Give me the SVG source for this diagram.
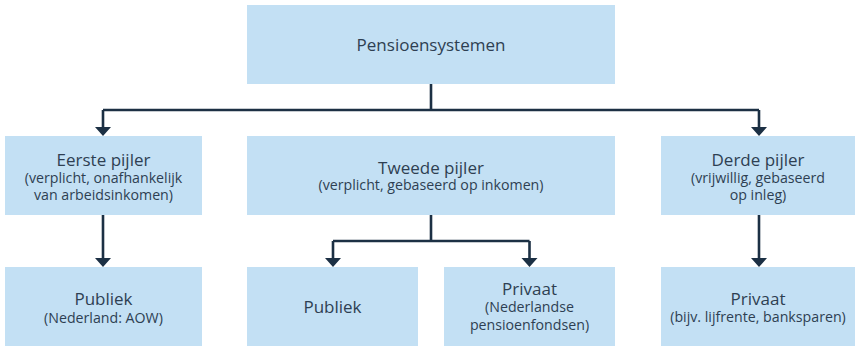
<svg xmlns="http://www.w3.org/2000/svg" width="855" height="346" viewBox="0 0 855 346">
<defs>
<style>
.box{fill:#c3e0f4}
.t{font-family:"Open Sans","Noto Sans",sans-serif;fill:#2e3f52;text-anchor:middle}
.h{font-size:17px}
.s{font-size:14.2px}
.c{fill:none;stroke:#1c3044;stroke-width:2.6}
.a{fill:#1c3044}
</style>
</defs>
<rect width="855" height="346" fill="#ffffff"/>
<g id="connectors">
<path class="c" d="M431,84 V110 M103,110 H759 M103,110 V128 M759,110 V128"/>
<path class="c" d="M103,215 V258 M759,215 V258"/>
<path class="c" d="M431,215 V241 M333,241 H529.5 M333,241 V258 M529.5,241 V258"/>
<path class="a" d="M95,127 H111 L103,136 Z M751,127 H767 L759,136 Z"/>
<path class="a" d="M95,258 H111 L103,267 Z M751,258 H767 L759,267 Z M325,258 H341 L333,267 Z M521.5,258 H537.5 L529.5,267 Z"/>
</g>
<g id="pensioensystemen">
<rect class="box" x="247" y="5" width="368" height="79"/>
<text class="t h" x="431" y="51">Pensioensystemen</text>
</g>
<g id="eerste">
<rect class="box" x="5" y="136" width="197" height="79"/>
<text class="t h" x="103.5" y="166">Eerste pijler</text>
<text class="t s" x="103.5" y="182.5">(verplicht, onafhankelijk</text>
<text class="t s" x="103.5" y="200">van arbeidsinkomen)</text>
</g>
<g id="tweede">
<rect class="box" x="247" y="136" width="368" height="79"/>
<text class="t h" x="431" y="173.5">Tweede pijler</text>
<text class="t s" x="431" y="189.5">(verplicht, gebaseerd op inkomen)</text>
</g>
<g id="derde">
<rect class="box" x="661" y="136" width="194" height="79"/>
<text class="t h" x="758" y="166">Derde pijler</text>
<text class="t s" x="758" y="182.5">(vrijwillig, gebaseerd</text>
<text class="t s" x="758" y="200">op inleg)</text>
</g>
<g id="publiek1">
<rect class="box" x="5" y="267" width="197" height="79"/>
<text class="t h" x="103.5" y="305">Publiek</text>
<text class="t s" x="103.5" y="322.5">(Nederland: AOW)</text>
</g>
<g id="publiek2">
<rect class="box" x="247" y="267" width="171" height="79"/>
<text class="t h" x="332.5" y="313">Publiek</text>
</g>
<g id="privaat1">
<rect class="box" x="444" y="267" width="171" height="79"/>
<text class="t h" x="529.5" y="295">Privaat</text>
<text class="t s" x="529.5" y="312">(Nederlandse</text>
<text class="t s" x="529.5" y="330">pensioenfondsen)</text>
</g>
<g id="privaat2">
<rect class="box" x="661" y="267" width="194" height="79"/>
<text class="t h" x="758" y="305">Privaat</text>
<text class="t s" x="758" y="322">(bijv. lijfrente, banksparen)</text>
</g>
</svg>
